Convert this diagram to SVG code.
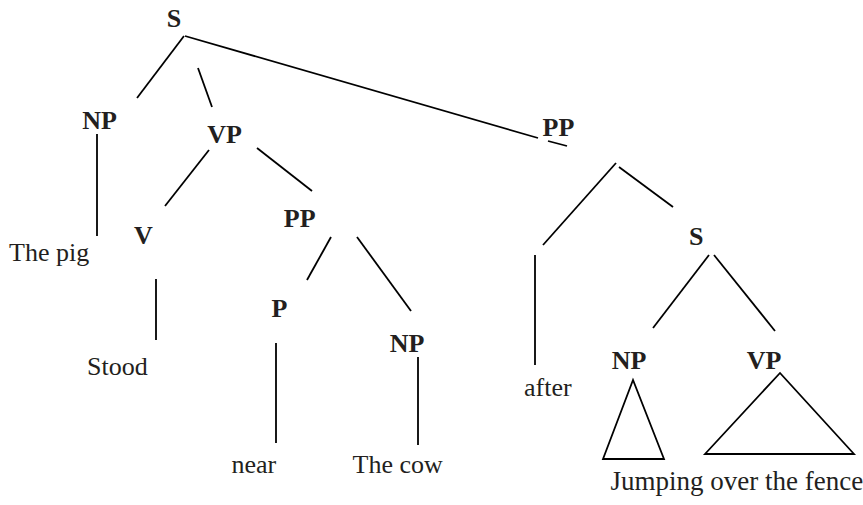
<svg xmlns="http://www.w3.org/2000/svg" width="863" height="505" viewBox="0 0 863 505">
<style>
.lbl{font-family:"Liberation Serif","Times New Roman",serif;font-weight:bold;font-size:26px;fill:#231f20;text-anchor:middle}
.word{font-family:"Liberation Serif","Times New Roman",serif;font-size:26px;fill:#231f20}
.edge{stroke:#000;stroke-width:1.8;fill:none}
</style>
<rect width="863" height="505" fill="#fff"/>
<g id="connectors">
<line class="edge" x1="184" y1="36" x2="137" y2="98"/>
<line class="edge" x1="198" y1="68" x2="212" y2="107"/>
<line class="edge" x1="185" y1="36" x2="538" y2="138"/>
<line class="edge" x1="548" y1="141" x2="567" y2="146"/>
<line class="edge" x1="97" y1="134" x2="97" y2="236"/>
<line class="edge" x1="209" y1="150" x2="165" y2="206"/>
<line class="edge" x1="257" y1="148" x2="312" y2="191"/>
<line class="edge" x1="156" y1="279" x2="156" y2="340"/>
<line class="edge" x1="331" y1="237" x2="307" y2="280"/>
<line class="edge" x1="357" y1="237" x2="411" y2="311"/>
<line class="edge" x1="276" y1="343" x2="276" y2="443"/>
<line class="edge" x1="418" y1="357" x2="418" y2="445"/>
<line class="edge" x1="616" y1="163" x2="543" y2="245"/>
<line class="edge" x1="619" y1="167" x2="673" y2="207"/>
<line class="edge" x1="535" y1="255" x2="535" y2="365"/>
<line class="edge" x1="709" y1="255" x2="653" y2="328"/>
<line class="edge" x1="714" y1="255" x2="775" y2="331"/>
</g>
<g id="S"><text class="lbl" x="174" y="27">S</text></g>
<g id="NP1"><text class="lbl" x="99.5" y="129">NP</text></g>
<g id="VP1"><text class="lbl" x="224.5" y="143">VP</text></g>
<g id="V"><text class="lbl" x="143.3" y="244">V</text></g>
<g id="PP1"><text class="lbl" x="299.7" y="227">PP</text></g>
<g id="P"><text class="lbl" x="279.5" y="317">P</text></g>
<g id="NP2"><text class="lbl" x="407" y="352">NP</text></g>
<g id="PP2"><text class="lbl" x="558.5" y="136">PP</text></g>
<g id="S2"><text class="lbl" x="696.3" y="245">S</text></g>
<g id="NP3"><text class="lbl" x="629" y="368.5">NP</text>
<polygon class="edge" points="633,380 603,459 664,459"/></g>
<g id="VP2"><text class="lbl" x="764" y="369">VP</text>
<polygon class="edge" points="780,373 705,454 854,454"/></g>
<g id="w-thepig"><text class="word" x="9" y="261">The pig</text></g>
<g id="w-stood"><text class="word" x="87" y="375">Stood</text></g>
<g id="w-near"><text class="word" x="231.5" y="473">near</text></g>
<g id="w-thecow"><text class="word" x="352.5" y="473">The cow</text></g>
<g id="w-after"><text class="word" x="524" y="396">after</text></g>
<g id="w-jumping"><text class="word" x="610.5" y="490" style="font-size:27px">Jumping over the fence</text></g>
</svg>
